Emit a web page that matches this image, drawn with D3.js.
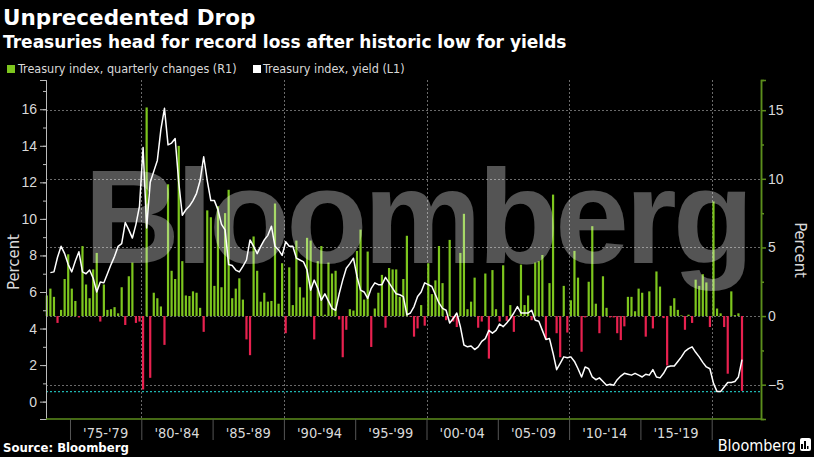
<!DOCTYPE html>
<html>
<head>
<meta charset="utf-8">
<script src="https://cdn.jsdelivr.net/npm/d3@7"></script>
<style>
  body { margin: 0; background: #000; }
  svg { display: block; font-family: "DejaVu Sans Condensed", "DejaVu Sans", sans-serif; }
</style>
</head>
<body>
<svg id="chart" width="814" height="457"></svg>
<script>
// first quarter of the series: 1973 Q2, one value per quarter up to 2022 Q1
var startYear = 1973, startQuarter = 2;

// Treasury index, quarterly changes (%), right axis
var changes = [
  1.5, 2.0, 1.4, -0.5, 0.45, 2.7, 4.5, 2.0, 1.1, -0.1,
  5.1, 2.3, 1.3, 3.4, 4.6, -0.4, 2.3, 0.45, 0.5, 0.65,
  0.2, 2.1, -0.65, 2.9, 3.9, -0.5, -0.4, -5.35, 15.2, -4.5,
  1.7, 1.3, 0.7, -2.1, 9.6, 3.3, 2.7, 12.4, 4.0, 1.5,
  1.46, 1.8, 1.7, 0.6, -1.15, 7.7, 7.2, 2.2, 8.0, 2.1,
  7.5, 9.2, 1.3, 2.0, 2.75, 1.2, -1.7, -2.85, 5.8, 3.3,
  1.05, 1.7, 1.05, 1.1, 8.2, 0.9, 3.85, -1.25, 3.55, 0.8,
  5.5, 2.1, 1.35, 5.7, 5.5, -1.7, 4.0, 5.1, 0.1, 3.9,
  3.1, 3.3, -0.25, -3.0, -1.0, 0.5, 0.4, 4.75, 6.3, 1.2,
  4.7, -2.25, 0.55, 1.7, 3.0, -0.85, 3.5, 3.4, 3.4, 1.4,
  2.7, 5.85, -0.05, -1.5, -0.9, 0.8, -0.7, 3.85, 1.6, 2.6,
  5.1, 2.4, -0.3, 5.55, -0.4, -0.8, 4.6, 7.45, 0.5, 1.05,
  2.8, -0.85, -0.4, 3.1, -3.1, 3.35, 0.5, -0.4, 3.7, -0.35,
  0.8, -1.15, 0.05, 3.75, 0.8, 1.5, -0.3, 3.9, 4.0, 4.45,
  -1.7, 2.4, 8.85, -1.25, -3.0, 2.2, -1.2, 1.15, 4.75, 2.8,
  -2.6, -0.1, 2.5, 6.55, 0.9, -1.25, 2.9, 0.6, -0.1, -0.1,
  -1.25, -1.75, -0.75, 1.4, 1.4, 0.35, 2.0, 1.7, -1.5, 1.8,
  -0.9, 3.25, 2.15, -0.15, -3.6, 0.75, 1.3, 0.45, 0.05, -1.0,
  0.1, -0.5, 2.65, 2.2, 3.05, 2.45, -0.8, 8.35, 0.55, 0.2,
  -0.8, -4.2, 1.8, 0.07, 0.2, -5.45
];

// Treasury index, yield (%), left axis
var yields = [
  null, 7.06, 7.1, 7.9, 8.5, 8.1, 7.5, 7.1, 7.7, 8.2,
  7.1, 7.0, 7.2, 6.75, 6.0, 6.55, 6.5, 7.0, 7.5, 7.95,
  8.5, 8.65, 9.8, 9.4, 8.95, 9.7, 10.7, 13.9, 9.5, 12.0,
  12.6, 13.2, 14.9, 16.05, 14.05, 14.15, 14.4, 12.0, 10.2, 10.5,
  10.7, 11.0, 11.4, 12.1, 13.4, 12.1, 11.0, 11.0, 10.5, 9.7,
  9.4, 7.5, 7.45, 7.2, 7.1, 7.4, 7.75, 8.85, 8.5, 8.1,
  8.5, 8.85, 9.1, 9.6, 8.5, 8.3, 8.0, 8.75, 8.5, 8.5,
  7.85, 7.75, 7.65, 7.2, 6.1, 6.65, 6.2, 5.55, 5.9, 5.5,
  5.1, 5.0, 5.9, 6.65, 7.3, 7.55, 7.85, 6.85, 6.1, 6.0,
  5.65, 6.2, 6.5, 6.4, 6.4, 6.8, 6.5, 6.2, 5.9, 5.85,
  5.75, 4.75, 4.85, 5.2, 5.75, 6.0, 6.5, 6.4, 6.3, 5.85,
  5.4, 5.1, 5.0, 4.3, 4.55, 4.85, 4.1, 3.1, 3.0, 3.05,
  2.85, 3.0, 3.3, 3.45, 3.9, 3.75, 3.9, 4.25, 4.1, 4.3,
  4.55, 4.85, 5.2, 4.85, 4.85, 4.85, 5.0, 4.45, 4.4, 3.9,
  3.4, 3.45, 2.65, 1.75, 2.1, 2.45, 2.4, 2.45, 2.2, 1.8,
  1.35, 1.9, 1.8, 1.35, 1.2, 1.3, 1.1, 0.9, 0.95, 0.9,
  1.2, 1.4, 1.55, 1.5, 1.45, 1.55, 1.45, 1.35, 1.5, 1.45,
  1.75, 1.35, 1.3, 1.55, 1.9, 1.95, 1.95, 2.2, 2.45, 2.75,
  2.9, 3.0, 2.7, 2.45, 2.15, 1.9, 1.8, 1.0, 0.55, 0.55,
  0.8, 1.05, 1.05, 1.1, 1.35, 2.3
];

var leftTicks = [0, 2, 4, 6, 8, 10, 12, 14, 16];
var rightTicks = [-5, 0, 5, 10, 15];
var periodStarts = [1975, 1980, 1985, 1990, 1995, 2000, 2005, 2010, 2015];
var periodLabels = ["'75-'79", "'80-'84", "'85-'89", "'90-'94", "'95-'99", "'00-'04", "'05-'09", "'10-'14", "'15-'19"];

var green = '#7dc61e', red = '#e8214f', axisGreen = '#5c8e1c', gridGray = '#6a6a6a', textGray = '#d9d9d9';

// decimal year at the middle of each quarter
var data = changes.map(function(c, i) {
    var q = startQuarter - 1 + i;
    return {
        t: startYear + Math.floor(q / 4) + (q % 4) * 0.25 + 0.125,
        change: c,
        yield: yields[i]
    };
});

var plot = { left: 46, right: 761, top: 80, bottom: 419 };

var x = d3.scaleLinear().domain([1973.317, 2023.457]).range([plot.left, plot.right]);
var yL = d3.scaleLinear().domain([-0.95, 17.6]).range([plot.bottom, plot.top]);
var yR = d3.scaleLinear().domain([-7.5, 17.2]).range([plot.bottom, plot.top]);

var svg = d3.select('#chart');
svg.append('rect').attr('width', 814).attr('height', 457).attr('fill', '#000');

// titles
svg.append('text').attr('x', 3).attr('y', 25)
   .attr('fill', '#fff').attr('font-size', 21.5).attr('font-weight', 'bold')
   .attr('font-family', '"DejaVu Sans", sans-serif')
   .text('Unprecedented Drop');
svg.append('text').attr('x', 3).attr('y', 48)
   .attr('fill', '#fff').attr('font-size', 17).attr('font-weight', 'bold')
   .attr('font-family', '"DejaVu Sans", sans-serif')
   .text('Treasuries head for record loss after historic low for yields');

// legend
var legend = svg.append('g').attr('font-size', 12.5).attr('fill', textGray);
legend.append('rect').attr('x', 7).attr('y', 65).attr('width', 8).attr('height', 8).attr('fill', green);
legend.append('text').attr('x', 18).attr('y', 73).text('Treasury index, quarterly changes (R1)');
legend.append('rect').attr('x', 253).attr('y', 65).attr('width', 8).attr('height', 8).attr('fill', '#fff');
legend.append('text').attr('x', 263).attr('y', 73).text('Treasury index, yield (L1)');

// grid
var grid = svg.append('g').attr('stroke', gridGray).attr('stroke-width', 1).attr('stroke-dasharray', '2,2');
grid.selectAll('.hgrid')
    .data(rightTicks)
    .enter()
    .append('line')
    .attr('x1', plot.left).attr('x2', plot.right)
    .attr('y1', function(d) { return Math.round(yR(d)) + 0.5; })
    .attr('y2', function(d) { return Math.round(yR(d)) + 0.5; });
grid.selectAll('.vgrid')
    .data(periodStarts.filter(function(d) { return d % 10 === 0; }).concat([2020]))
    .enter()
    .append('line')
    .attr('x1', function(d) { return Math.round(x(d)) + 0.5; })
    .attr('x2', function(d) { return Math.round(x(d)) + 0.5; })
    .attr('y1', plot.top).attr('y2', plot.bottom);

// record low yield line
svg.append('line')
   .attr('x1', plot.left).attr('x2', plot.right)
   .attr('y1', yL(d3.min(yields))).attr('y2', yL(d3.min(yields)))
   .attr('stroke', '#1fb5b0').attr('stroke-width', 1.2).attr('stroke-dasharray', '2,2');

// bars
var barW = 2.2;
svg.append('g')
   .selectAll('rect')
   .data(data)
   .enter()
   .append('rect')
   .attr('x', function(d) { return x(d.t) - barW / 2; })
   .attr('width', barW)
   .attr('y', function(d) { return yR(Math.max(0, d.change)); })
   .attr('height', function(d) { return Math.abs(yR(d.change) - yR(0)); })
   .attr('fill', function(d) { return d.change >= 0 ? green : red; });

// yield line
var line = d3.line()
    .defined(function(d) { return d.yield !== null; })
    .x(function(d) { return x(d.t); })
    .y(function(d) { return yL(d.yield); });
svg.append('path')
   .datum(data)
   .attr('d', line)
   .attr('fill', 'none')
   .attr('stroke', '#fff')
   .attr('stroke-width', 1.5)
   .attr('stroke-linejoin', 'round');

// watermark
svg.append('text')
   .attr('x', 84).attr('y', 263)
   .attr('font-family', '"Liberation Sans", Arial, sans-serif')
   .attr('font-weight', 'bold')
   .attr('font-size', 133)
   .attr('textLength', 670)
   .attr('lengthAdjust', 'spacing')
   .attr('fill', '#fff')
   .attr('fill-opacity', 0.33)
   .text('Bloomberg');

// left axis
var leftMinor = svg.append('g')
    .attr('transform', 'translate(' + plot.left + ',0)')
    .call(d3.axisLeft(yL).tickValues(d3.range(-0, 18, 1)).tickSize(3).tickFormat(''));
var leftAxis = svg.append('g')
    .attr('transform', 'translate(' + plot.left + ',0)')
    .call(d3.axisLeft(yL).tickValues(leftTicks).tickSize(6).tickPadding(3));
[leftMinor, leftAxis].forEach(function(g) {
    g.select('.domain').attr('stroke', '#bbb');
    g.selectAll('line').attr('stroke', '#bbb');
});
leftAxis.selectAll('text').attr('fill', textGray).attr('font-size', 14).attr('font-family', null);

// right axis
var rightMinor = svg.append('g')
    .attr('transform', 'translate(' + plot.right + ',0)')
    .call(d3.axisRight(yR).tickValues([-2.5, 2.5, 7.5, 12.5]).tickSize(3).tickFormat(''));
var rightAxis = svg.append('g')
    .attr('transform', 'translate(' + plot.right + ',0)')
    .call(d3.axisRight(yR).tickValues(rightTicks).tickSize(5).tickPadding(2));
[rightMinor, rightAxis].forEach(function(g) {
    g.select('.domain').attr('stroke', axisGreen).attr('stroke-width', 1.5);
    g.selectAll('line').attr('stroke', axisGreen).attr('stroke-width', 1.5);
});
rightAxis.selectAll('text').attr('fill', textGray).attr('font-size', 14).attr('font-family', null);

// bottom axis
svg.append('line')
   .attr('x1', plot.left).attr('x2', plot.right)
   .attr('y1', plot.bottom).attr('y2', plot.bottom)
   .attr('stroke', axisGreen).attr('stroke-width', 1.5);
var xAxis = svg.append('g')
    .attr('transform', 'translate(0,' + plot.bottom + ')')
    .call(d3.axisBottom(x).tickValues(periodStarts.concat([2020])).tickSize(21).tickFormat(''));
xAxis.select('.domain').remove();
xAxis.selectAll('line').attr('stroke', '#555');
svg.append('g')
   .selectAll('text')
   .data(periodStarts)
   .enter()
   .append('text')
   .attr('x', function(d) { return x(d + 2.5); })
   .attr('y', 438)
   .attr('text-anchor', 'middle')
   .attr('font-size', 14.5)
   .attr('fill', textGray)
   .text(function(d, i) { return periodLabels[i]; });

// axis titles
svg.append('text')
   .attr('transform', 'translate(19,262) rotate(-90)')
   .attr('text-anchor', 'middle').attr('font-size', 16.5).attr('fill', textGray)
   .text('Percent');
svg.append('text')
   .attr('transform', 'translate(795,250) rotate(90)')
   .attr('text-anchor', 'middle').attr('font-size', 16.5).attr('fill', textGray)
   .text('Percent');

// footer
svg.append('text').attr('x', 3).attr('y', 452)
   .attr('font-size', 13).attr('font-weight', 'bold').attr('fill', '#fff')
   .text('Source: Bloomberg');
svg.append('text').attr('x', 796).attr('y', 451)
   .attr('text-anchor', 'end').attr('font-size', 16).attr('fill', '#fff')
   .text('Bloomberg');
var logo = svg.append('g').attr('transform', 'translate(800,438)');
logo.append('rect').attr('width', 11).attr('height', 13).attr('rx', 2).attr('fill', '#fff');
[[2, 6, 2], [5, 3, 2], [8, 8, 1.5]].forEach(function(b) {
    logo.append('rect').attr('x', b[0] - 1).attr('y', b[1]).attr('width', b[2]).attr('height', 11 - b[1]).attr('fill', '#000');
});
</script>
</body>
</html>
